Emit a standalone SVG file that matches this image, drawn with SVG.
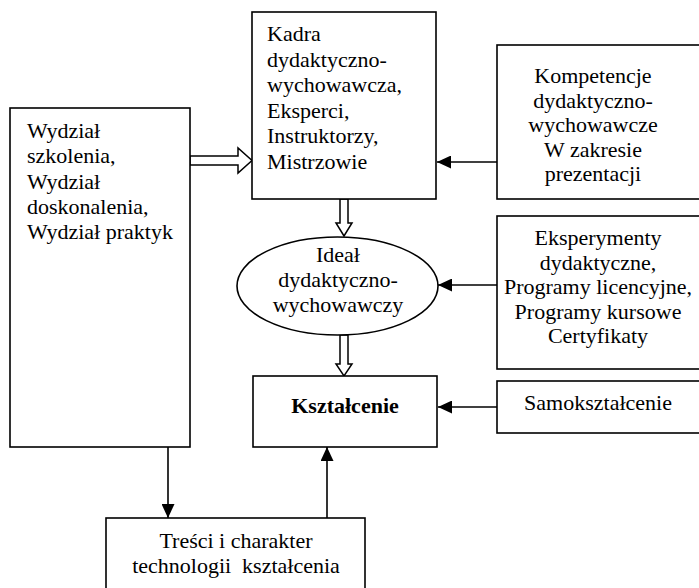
<svg xmlns="http://www.w3.org/2000/svg" width="699" height="588" viewBox="0 0 699 588">
<style>
.box{fill:#fff;stroke:#000;stroke-width:1.6}
.t{font-family:"Liberation Serif","Times New Roman",serif;font-size:22px;fill:#000}
.c{text-anchor:middle}
.b{font-weight:bold}
.ln{fill:none;stroke:#000;stroke-width:1.6}
.hol{fill:#fff;stroke:#000;stroke-width:1.5;stroke-linejoin:miter}
</style>
<defs>
<marker id="ah" markerUnits="userSpaceOnUse" markerWidth="15" markerHeight="13" refX="14" refY="6.5" orient="auto">
<path d="M0,0 L14,6.5 L0,13 z" fill="#000"/>
</marker>
</defs>
<rect width="699" height="588" fill="#fff"/>

<g id="connectors">
<polygon class="hol" points="190,156 238,156 238,148 252,160.5 238,173 238,165 190,165"/>
<polygon class="hol" points="340,199 348,199 348,223 352,223 344,236 336,223 340,223"/>
<polygon class="hol" points="340,335 348,335 348,364 352,364 344,376 336,364 340,364"/>
<line class="ln" x1="497" y1="162" x2="437" y2="162" marker-end="url(#ah)"/>
<line class="ln" x1="497" y1="285" x2="438" y2="285" marker-end="url(#ah)"/>
<line class="ln" x1="497" y1="407" x2="438" y2="407" marker-end="url(#ah)"/>
<line class="ln" x1="168" y1="447" x2="168" y2="518" marker-end="url(#ah)"/>
<line class="ln" x1="327" y1="518" x2="327" y2="447" marker-end="url(#ah)"/>
</g>

<g id="wydzial">
<rect class="box" x="10" y="108" width="180" height="339"/>
<text class="t"><tspan x="27" y="138">Wydział</tspan><tspan x="27" y="163">szkolenia,</tspan><tspan x="27" y="189">Wydział</tspan><tspan x="27" y="214">doskonalenia,</tspan><tspan x="27" y="239">Wydział praktyk</tspan></text>
</g>

<g id="kadra">
<rect class="box" x="252" y="12" width="184" height="187"/>
<text class="t"><tspan x="267" y="41">Kadra</tspan><tspan x="267" y="66.5">dydaktyczno-</tspan><tspan x="267" y="92">wychowawcza,</tspan><tspan x="267" y="117.5">Eksperci,</tspan><tspan x="267" y="143">Instruktorzy,</tspan><tspan x="267" y="168.5">Mistrzowie</tspan></text>
</g>

<g id="kompetencje">
<rect class="box" x="497" y="45" width="204" height="154"/>
<text class="t c"><tspan x="593" y="83">Kompetencje</tspan><tspan x="593" y="107.5">dydaktyczno-</tspan><tspan x="593" y="132">wychowawcze</tspan><tspan x="593" y="156.5">W zakresie</tspan><tspan x="593" y="181">prezentacji</tspan></text>
</g>

<g id="ideal">
<ellipse class="box" cx="337.5" cy="286" rx="100.5" ry="49"/>
<text class="t c"><tspan x="338" y="262">Ideał</tspan><tspan x="338" y="287">dydaktyczno-</tspan><tspan x="338" y="312">wychowawczy</tspan></text>
</g>

<g id="eksperymenty">
<rect class="box" x="497" y="216" width="204" height="153"/>
<text class="t c"><tspan x="598" y="245">Eksperymenty</tspan><tspan x="598" y="269.5">dydaktyczne,</tspan><tspan x="598" y="294">Programy licencyjne,</tspan><tspan x="598" y="318.5">Programy kursowe</tspan><tspan x="598" y="343">Certyfikaty</tspan></text>
</g>

<g id="ksztalcenie">
<rect class="box" x="253" y="376" width="184" height="71"/>
<text class="t c b" x="345" y="413">Kształcenie</text>
</g>

<g id="samoksztalcenie">
<rect class="box" x="497" y="381" width="204" height="52"/>
<text class="t c" x="598" y="410">Samokształcenie</text>
</g>

<g id="tresci">
<rect class="box" x="106" y="518" width="259" height="80"/>
<text class="t c"><tspan x="236" y="548">Treści i charakter</tspan><tspan x="236" y="573" xml:space="preserve">technologii  kształcenia</tspan></text>
</g>
</svg>
